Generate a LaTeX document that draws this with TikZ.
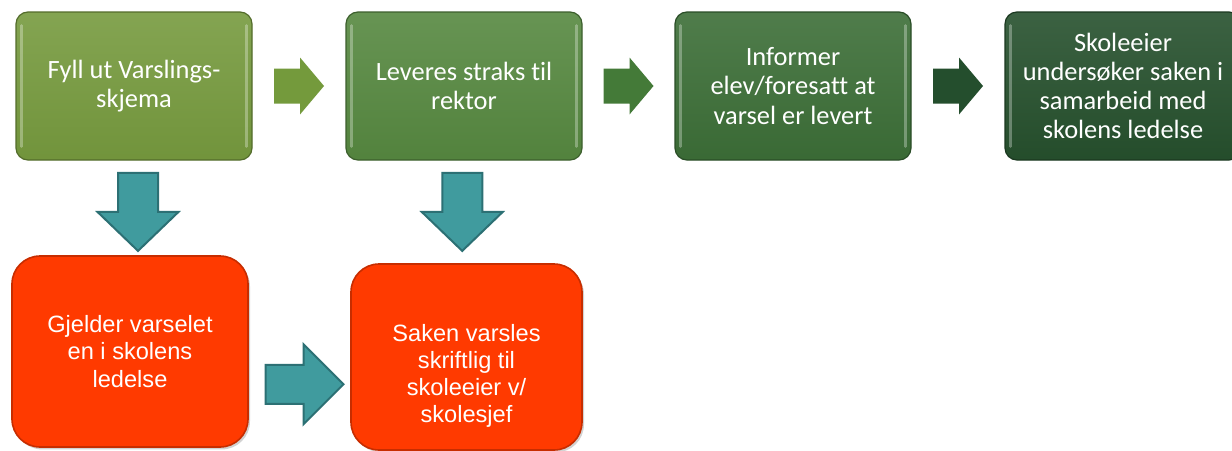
\documentclass[tikz,border=0pt]{standalone}
\usepackage{fontspec}
\newfontfamily\calibri[Ligatures=NoCommon]{Carlito}
\newfontfamily\arialf{Liberation Sans}
\usetikzlibrary{calc,shadows}
\definecolor{gA}{RGB}{118,154,62}
\definecolor{gB}{RGB}{86,136,64}
\definecolor{gC}{RGB}{60,110,55}
\definecolor{gD}{RGB}{38,80,45}
\definecolor{gaA}{RGB}{116,154,60}
\definecolor{gaB}{RGB}{68,122,56}
\definecolor{gaC}{RGB}{36,78,45}
\definecolor{redbox}{RGB}{255,58,0}
\definecolor{tealfill}{RGB}{64,155,158}
\definecolor{tealdark}{RGB}{44,112,116}
\tikzset{
  gbox/.style={rectangle, rounded corners=6pt, minimum width=118pt, minimum height=74pt,
    inner sep=2pt, align=center, text=white, top color=#1!90!white, bottom color=#1!96!black,
    draw=#1!70!black, line width=0.6pt, font=\calibri\fontsize{13.2}{14.6}\selectfont},
  bevel/.style={draw=white, opacity=0.3, line width=1.2pt, line cap=round},
  rbox/.style={rectangle, rounded corners=14pt, minimum width=#1, minimum height=95pt,
    inner sep=2pt, align=center, text=white, fill=redbox, draw=redbox!78!black, line width=0.8pt,
    drop shadow={shadow xshift=1pt, shadow yshift=-1.2pt, opacity=.35},
    font=\arialf\fontsize{11.8}{13.6}\selectfont},
  rtext/.style={align=center, text=white, inner sep=0pt, font=\arialf\fontsize{11.8}{13.6}\selectfont},
  tealarrow/.style={fill=tealfill, draw=tealdark, line width=1pt, line join=miter},
  pics/blockarrow/.style n args={5}{code={
    \path[#5] (-#1/2,-#3/2) -- (#1/2-#2,-#3/2) -- (#1/2-#2,-#4/2) -- (#1/2,0)
      -- (#1/2-#2,#4/2) -- (#1/2-#2,#3/2) -- (-#1/2,#3/2) -- cycle;
  }}
}
\begin{document}
\begin{tikzpicture}[x=0.5pt,y=-0.5pt]
\useasboundingbox (0,0) rectangle (1232,450);
\fill[white] (0,0) rectangle (1232,450);
\clip (0,0) rectangle (1232,450);
% top row
\node[gbox=gA] (g1) at (134,86) {Fyll ut Varslings-\\skjema};
\node[gbox=gB] (g2) at (464,86) {Leveres straks til\\rektor};
\node[gbox=gC] (g3) at (793,86) {Informer\\elev/foresatt at\\varsel er levert};
\node[gbox=gD] (g4) at (1123,86) {Skoleeier\\undersøker saken i\\samarbeid med\\skolens ledelse};
% bevel stripes
\foreach \n in {g1,g2,g3,g4}{
  \draw[bevel] ($(\n.north west)+(6,14)$) -- ($(\n.south west)+(6,-14)$);
  \draw[bevel] ($(\n.north east)+(-6,14)$) -- ($(\n.south east)+(-6,-14)$);
}
% bottom row
\node[rbox=118pt, minimum height=95.5pt] (r1) at (130,351.5) {Gjelder varselet\\en i skolens\\ledelse};
\node[rbox=115.5pt, minimum height=93pt] (r2) at (466.5,357) {};
\node[rtext] (r2t) at ($(r2.center)+(0,19)$) {Saken varsles\\skriftlig til\\skoleeier v/\\skolesjef};
% green arrows
\pic at ($(g1.east)!0.5!(g2.west)$) {blockarrow={50}{24}{35}{57}{fill=gaA}};
\pic at ($(g2.east)!0.5!(g3.west)$) {blockarrow={50}{24}{35}{57}{fill=gaB}};
\pic at ($(g3.east)!0.5!(g4.west)$) {blockarrow={50}{24}{35}{57}{fill=gaC}};
% teal arrows
\pic[rotate=-90] at ($(g1.south)!0.5!(r1.north)+(6,4)$) {blockarrow={78}{39}{40}{81}{tealarrow}};
\pic[rotate=-90] at ($(g2.south)!0.5!(r2.north)+(-3,0)$) {blockarrow={78}{39}{40}{81}{tealarrow}};
\pic at ($(r1.east)!0.5!(r2.west)+(5,30)$) {blockarrow={78}{40}{39}{80}{tealarrow}};
\end{tikzpicture}
\end{document}
